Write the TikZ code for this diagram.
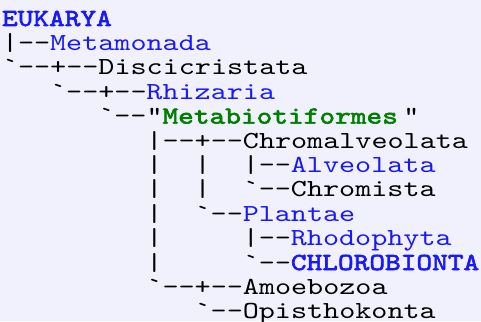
\documentclass[tikz,border=0pt]{standalone}
\usepackage{fontspec}
\newfontfamily\monor{lmmono10-regular.otf}[FakeStretch=1.25]
\newfontfamily\monob{lmmono10-regular.otf}[FakeStretch=1.22, FakeBold=2.5]
\definecolor{bgc}{RGB}{241,241,253}
\definecolor{txblue}{RGB}{24,24,255}
\definecolor{txgreen}{RGB}{0,128,0}
\definecolor{txblack}{RGB}{0,0,0}
\tikzset{
  txt/.style={anchor=base west, inner sep=0pt, outer sep=0pt, text=txblack,
    font=\monor\fontsize{24.5pt}{28pt}\selectfont},
  tblue/.style={txt, text=txblue},
  tgreen/.style={txt, text=txgreen, font=\monob\fontsize{24.5pt}{28pt}\selectfont},
  tbblue/.style={txt, text=txblue, font=\monob\fontsize{24.5pt}{28pt}\selectfont}
}
\newcommand{\cx}[1]{2pt+#1*16.05pt}
\newcommand{\ly}[1]{-26pt-(#1-1)*24.4pt}
\begin{document}
\begin{tikzpicture}
\fill[bgc] (0,0) rectangle (481pt,-321pt);
\path[use as bounding box] (0,0) rectangle (481pt,-321pt);
% line 1
\node[tbblue] (eukarya) at ({\cx{0}},{\ly{1}}) {EUKARYA};
% line 2
\node[txt] (l2a) at ({\cx{0}},{\ly{2}}) {|--};
\node[tblue] (metamonada) at ({\cx{3}},{\ly{2}}) {Metamonada};
% line 3
\node[txt] (discicristata) at ({\cx{0}},{\ly{3}}) {`--+--Discicristata};
% line 4
\node[txt] (l4a) at ({\cx{3}},{\ly{4}}) {`--+--};
\node[tblue] (rhizaria) at ({\cx{9}},{\ly{4}}) {Rhizaria};
% line 5
\node[txt] (l5a) at ({\cx{6}},{\ly{5}}) {`--"};
\node[tgreen] (metabio) at ({\cx{10}},{\ly{5}}) {Metabiotiformes};
\node[txt] (l5b) at ({\cx{25}},{\ly{5}}) {"};
% line 6
\node[txt] (chromalveolata) at ({\cx{9}},{\ly{6}}) {|--+--Chromalveolata};
% line 7
\node[txt] (l7a) at ({\cx{9}},{\ly{7}}) {|};
\node[txt] (l7b) at ({\cx{12}},{\ly{7}}) {|};
\node[txt] (l7c) at ({\cx{15}},{\ly{7}}) {|--};
\node[tblue] (alveolata) at ({\cx{18}},{\ly{7}}) {Alveolata};
% line 8
\node[txt] (l8a) at ({\cx{9}},{\ly{8}}) {|};
\node[txt] (l8b) at ({\cx{12}},{\ly{8}}) {|};
\node[txt] (chromista) at ({\cx{15}},{\ly{8}}) {`--Chromista};
% line 9
\node[txt] (l9a) at ({\cx{9}},{\ly{9}}) {|};
\node[txt] (l9b) at ({\cx{12}},{\ly{9}}) {`--};
\node[tblue] (plantae) at ({\cx{15}},{\ly{9}}) {Plantae};
% line 10
\node[txt] (l10a) at ({\cx{9}},{\ly{10}}) {|};
\node[txt] (l10b) at ({\cx{15}},{\ly{10}}) {|--};
\node[tblue] (rhodophyta) at ({\cx{18}},{\ly{10}}) {Rhodophyta};
% line 11
\node[txt] (l11a) at ({\cx{9}},{\ly{11}}) {|};
\node[txt] (l11b) at ({\cx{15}},{\ly{11}}) {`--};
\node[tbblue] (chlorobionta) at ({\cx{18}},{\ly{11}}) {CHLOROBIONTA};
% line 12
\node[txt] (amoebozoa) at ({\cx{9}},{\ly{12}}) {`--+--Amoebozoa};
% line 13
\node[txt] (opisthokonta) at ({\cx{12}},{\ly{13}}) {`--Opisthokonta};
\end{tikzpicture}
\end{document}
